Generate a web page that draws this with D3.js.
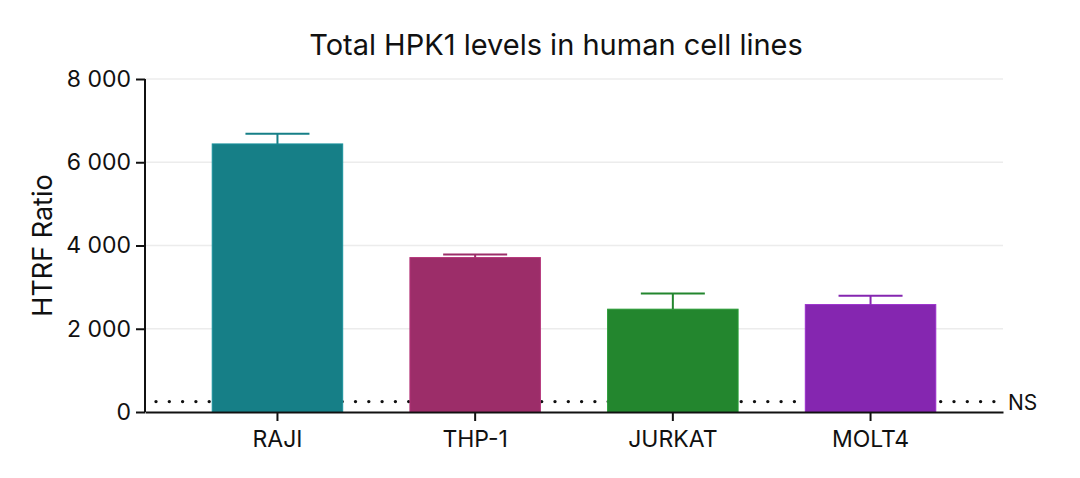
<!DOCTYPE html>
<html>
<head>
<meta charset="utf-8">
<script src="https://cdn.jsdelivr.net/npm/d3@7"></script>
<style>
  body { margin: 0; background: #fff; }
  svg { display: block; font-family: Inter, "Noto Sans", sans-serif; }
</style>
</head>
<body>
<div id="chart"></div>
<script>
const cellLines = ["RAJI", "THP-1", "JURKAT", "MOLT4"]
const htrfMean = [6440, 3710, 2470, 2580]
const htrfErr = [245, 75, 375, 210]
const barColors = ["#167f87", "#9c2d69", "#23862e", "#8526b0"]
const yTicks = [0, 2000, 4000, 6000, 8000]
const nsLevel = 250

const width = 1080, height = 478
const margin = { top: 79, right: 77, bottom: 66, left: 145 }

const svg = d3.select("#chart")
    .append("svg")
    .attr("width", width)
    .attr("height", height)

const x = d3.scaleBand()
    .domain(cellLines)
    .range([margin.left, width - margin.right])
    .padding(0.34)

const y = d3.scaleLinear()
    .domain([0, 8000])
    .range([height - margin.bottom, margin.top])

const fmt = d => d3.format(",")(d).replace(",", " ")

// gridlines
svg.append("g")
    .selectAll("line")
    .data(yTicks.slice(1))
    .join("line")
    .attr("x1", margin.left)
    .attr("x2", width - margin.right)
    .attr("y1", d => y(d))
    .attr("y2", d => y(d))
    .attr("stroke", "#ececec")
    .attr("stroke-width", 1.5)

// NS dotted line (behind bars)
svg.append("line")
    .attr("x1", margin.left + 11)
    .attr("x2", width - margin.right - 6)
    .attr("y1", y(nsLevel))
    .attr("y2", y(nsLevel))
    .attr("stroke", "#111")
    .attr("stroke-width", 3.4)
    .attr("stroke-linecap", "round")
    .attr("stroke-dasharray", "0,13.3")

svg.append("text")
    .attr("x", width - margin.right + 5)
    .attr("y", y(nsLevel) + 8)
    .attr("font-size", 21)
    .attr("fill", "#111")
    .text("NS")

const data = cellLines.map((c, i) => ({ name: c, mean: htrfMean[i], err: htrfErr[i], color: barColors[i] }))

// bars
svg.append("g")
    .selectAll("rect")
    .data(data)
    .join("rect")
    .attr("x", d => x(d.name))
    .attr("width", x.bandwidth())
    .attr("y", d => y(d.mean))
    .attr("height", d => y(0) - y(d.mean))
    .attr("fill", d => d.color)
    .attr("stroke", d => d3.color(d.color).brighter(0.4))
    .attr("stroke-width", 1)

// error bars
const err = svg.append("g")
    .selectAll("g")
    .data(data)
    .join("g")
    .attr("stroke", d => d.color)
    .attr("stroke-width", 2)

err.append("line")
    .attr("x1", d => x(d.name) + x.bandwidth() / 2)
    .attr("x2", d => x(d.name) + x.bandwidth() / 2)
    .attr("y1", d => y(d.mean))
    .attr("y2", d => y(d.mean + d.err))

err.append("line")
    .attr("x1", d => x(d.name) + x.bandwidth() / 2 - 32)
    .attr("x2", d => x(d.name) + x.bandwidth() / 2 + 32)
    .attr("y1", d => y(d.mean + d.err))
    .attr("y2", d => y(d.mean + d.err))

// axes
const yAxis = svg.append("g")
    .attr("transform", `translate(${margin.left},0)`)
    .call(d3.axisLeft(y).tickValues(yTicks).tickFormat(fmt).tickSize(9).tickPadding(5))
    .attr("font-family", null)
    .attr("font-size", 23)
yAxis.selectAll("path, line").attr("stroke", "#111").attr("stroke-width", 2)
yAxis.selectAll("text").attr("fill", "#111")
yAxis.select(".domain").attr("d", `M0,${y(8000)}V${y(0)}`)

const xAxis = svg.append("g")
    .attr("transform", `translate(0,${y(0)})`)
    .call(d3.axisBottom(x).tickSize(9).tickPadding(10).tickSizeOuter(0))
    .attr("font-family", null)
    .attr("font-size", 23)
xAxis.selectAll("path, line").attr("stroke", "#111").attr("stroke-width", 2)
xAxis.selectAll("text").attr("fill", "#111")

// y-axis title
svg.append("text")
    .attr("transform", `translate(52,${(y(0) + y(8000)) / 2}) rotate(-90)`)
    .attr("text-anchor", "middle")
    .attr("font-size", 27)
    .attr("fill", "#111")
    .text("HTRF Ratio")

// title
svg.append("text")
    .attr("x", 556)
    .attr("y", 55)
    .attr("text-anchor", "middle")
    .attr("font-size", 29)
    .attr("fill", "#111")
    .text("Total HPK1 levels in human cell lines")
</script>
</body>
</html>
